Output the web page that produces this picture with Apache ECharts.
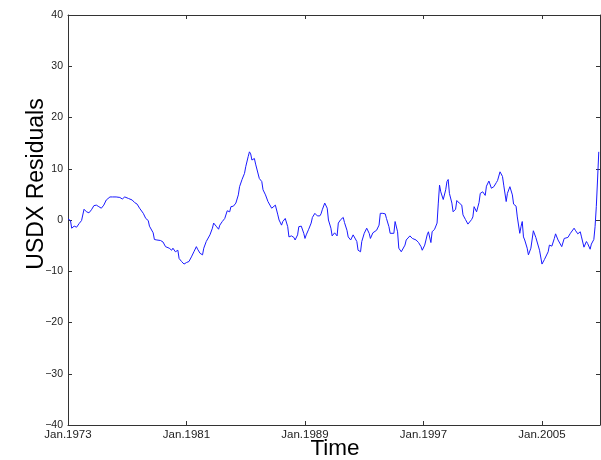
<!DOCTYPE html>
<html>
<head>
<meta charset="utf-8">
<script src="https://cdn.jsdelivr.net/npm/echarts@6/dist/echarts.min.js"></script>
<style>html,body{margin:0;padding:0;background:#fff}#c{width:601px;height:460px}</style>
</head>
<body>
<div id="c"></div>
<script>
// month index since Jan.1973
const months = [0,2,3,5,7,9,11,13,15,17,19,21,23,25,27,29,31,34,36,39,42,44,46,49,52,54,56,58,61,63,65,66,69,70,72,75,77,79,82,84,85,87,89,90,92,94,96,98,100,102,104,105,107,109,110,112,113,115,117,118,120,122,123,125,127,129,131,132,134,136,138,139,141,143,144,146,147,148,149,151,152,153,155,157,158,160,162,163,165,166,168,170,171,173,174,176,178,179,181,183,184,186,187,189,191,192,193,195,197,198,200,202,204,205,206,208,210,211,213,214,216,218,219,221,223,224,226,227,229,231,232,234,235,237,238,240,242,244,245,247,248,250,252,253,255,257,258,260,261,264,265,267,268,270,271,273,274,275,277,279,280,282,284,286,287,289,291,292,294,295,297,299,300,301,302,304,306,307,308,309,311,312,314,315,317,319,320,322,324,325,327,328,329,331,333,334,336,338,339,341,342,343,345,347,348,350,352,353,355,356,358,360,361,363,364,366,367,368,369,370,372,373,375,377,379,380,382,384,386,387,389,390,392,394,395,397,398,400,402,403,405,407,408,410,411,413,415,416,418,420,421,423,424,426,427,428,429,430];
const residuals = [0.2,-0.1,-1.6,-1.2,-1.4,-0.7,-0.1,2.1,1.6,1.4,2.0,2.8,2.9,2.6,2.3,2.9,3.9,4.5,4.5,4.5,4.4,4.1,4.5,4.2,3.9,3.4,3.1,2.3,1.3,0.3,-0.1,-1.2,-2.5,-3.8,-3.9,-4.0,-4.3,-5.2,-5.5,-5.9,-5.5,-6.2,-5.9,-7.5,-8.1,-8.6,-8.3,-8.1,-7.2,-6.2,-5.2,-5.7,-6.5,-6.8,-5.5,-4.2,-3.9,-2.9,-1.6,-0.6,-1.2,-1.8,-1.0,-0.3,0.3,1.8,1.6,2.6,2.7,3.3,4.9,6.5,7.9,9.1,10.4,12.4,13.3,12.9,11.7,12.0,10.9,10.7,8.1,7.5,5.9,4.9,3.6,3.9,2.3,2.0,2.9,1.0,0.0,-1.0,-0.3,0.3,-1.3,-3.3,-3.1,-3.4,-3.9,-2.9,-1.3,-1.2,-2.6,-3.6,-2.9,-1.8,-0.6,0.5,1.3,0.8,0.8,1.2,2.0,3.3,2.3,0.0,-1.6,-3.1,-2.5,-3.1,-0.6,0.1,0.5,-0.5,-2.0,-3.3,-3.9,-2.9,-3.1,-4.2,-5.9,-6.2,-4.2,-2.6,-1.6,-2.6,-3.6,-2.5,-2.7,-2.0,-1.0,1.3,1.3,1.2,0.3,-1.3,-2.6,-2.6,-0.3,-2.3,-5.5,-6.2,-6.5,-4.9,-3.9,-3.8,-3.1,-3.6,-3.9,-3.9,-4.4,-5.2,-5.9,-4.9,-2.9,-2.3,-4.4,-2.3,-1.8,-0.6,3.3,6.8,5.5,4.0,5.9,7.5,7.9,5.2,3.3,1.6,2.1,3.8,3.3,2.9,1.0,0.1,-0.8,-1.0,0.1,0.6,2.6,1.6,3.4,5.2,5.5,4.8,6.6,7.6,7.9,6.2,6.5,7.3,7.7,9.4,8.5,6.8,3.6,5.2,6.5,4.9,3.1,2.7,0.6,-2.6,-1.3,-0.3,-3.3,-3.9,-5.5,-6.8,-5.5,-2.1,-3.4,-3.6,-5.9,-8.6,-7.7,-7.5,-6.2,-4.9,-5.1,-3.6,-2.7,-3.9,-3.6,-5.2,-3.6,-3.3,-3.4,-2.6,-2.9,-1.6,-2.0,-2.7,-2.3,-3.3,-5.3,-4.2,-4.6,-5.7,-4.7,-3.8,-1.3,2.6,7.8,13.3];
const xTickLabels = ['Jan.1973','Jan.1981','Jan.1989','Jan.1997','Jan.2005'];
const xTickStep = 96;
const xMax = 431;
const yMin = -40, yMax = 40, yStep = 10;
const yTitle = 'USDX Residuals';
const xTitle = 'Time';

const chart = echarts.init(document.getElementById('c'), null, {renderer: 'canvas'});
const axisColor = '#333333';
const font = '"Liberation Sans", Arial, Helvetica, sans-serif';
const data = months.map((m, i) => [m, residuals[i]]);

const xCommon = {
  type: 'value', min: 0, max: xMax, interval: xTickStep,
  axisLine: {show: true, onZero: false, lineStyle: {color: axisColor, width: 1}},
  axisTick: {show: true, inside: true, length: 4, lineStyle: {color: axisColor}},
  splitLine: {show: false}
};
const yCommon = {
  type: 'value', min: yMin, max: yMax, interval: yStep,
  axisLine: {show: true, onZero: false, lineStyle: {color: axisColor, width: 1}},
  axisTick: {show: true, inside: true, length: 4, lineStyle: {color: axisColor}},
  splitLine: {show: false}
};

chart.setOption({
  animation: false,
  backgroundColor: '#ffffff',
  grid: {left: 68, right: 1, top: 15, bottom: 35, containLabel: false},
  xAxis: [
    Object.assign({}, xCommon, {
      position: 'bottom',
      axisLabel: {
        show: true, margin: 4, fontSize: 11.5, fontFamily: font, color: '#222',
        showMaxLabel: false,
        formatter: v => {
          const k = v / xTickStep;
          return (Number.isInteger(k) && k < xTickLabels.length) ? xTickLabels[k] : '';
        }
      }
    }),
    Object.assign({}, xCommon, {position: 'top', axisLabel: {show: false}})
  ],
  yAxis: [
    Object.assign({}, yCommon, {
      position: 'left',
      axisLabel: {
        show: true, margin: 5, fontSize: 10.5, fontFamily: font, color: '#222',
        formatter: v => String(v).replace('-', '\u2212')
      }
    }),
    Object.assign({}, yCommon, {position: 'right', axisLabel: {show: false}})
  ],
  series: [{
    type: 'line',
    data: data,
    showSymbol: false,
    symbol: 'none',
    lineStyle: {color: '#1a1aff', width: 1},
    xAxisIndex: 0, yAxisIndex: 0
  }],
  graphic: [
    {
      type: 'text', x: 37, y: 184, rotation: Math.PI / 2,
      style: {text: yTitle, font: '23px ' + font, fill: '#000', textAlign: 'center', textVerticalAlign: 'middle'}
    },
    {
      type: 'text', x: 335, y: 449,
      style: {text: xTitle, font: '22.5px ' + font, fill: '#000', textAlign: 'center', textVerticalAlign: 'middle'}
    }
  ]
});
</script>
</body>
</html>
